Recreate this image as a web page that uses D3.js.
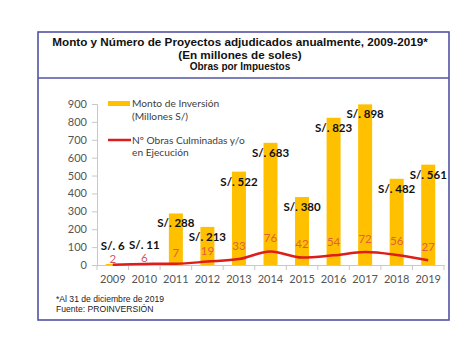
<!DOCTYPE html>
<html><head><meta charset="utf-8">
<script src="https://cdn.jsdelivr.net/npm/d3@7"></script>
<style>body{margin:0;background:#fff}svg{display:block}</style>
</head><body>
<script>
const years = ["2009","2010","2011","2012","2013","2014","2015","2016","2017","2018","2019"];
const montos = [6, 11, 288, 213, 522, 683, 380, 823, 898, 482, 561];
const obras = [2, 6, 7, 19, 33, 76, 42, 54, 72, 56, 27];
const yTicks = [0,100,200,300,400,500,600,700,800,900];
const titleLines = ["Monto y Número de Proyectos adjudicados anualmente, 2009-2019*", "(En millones de soles)", "Obras por Impuestos"];
const legendLabels = [["Monto de Inversión","(Millones S/)"],["Nº Obras Culminadas y/o","en Ejecución"]];
const notes = ["*Al 31 de diciembre de 2019", "Fuente: PROINVERSIÓN"];

const W = 474, H = 339;
const svg = d3.select("body").append("svg").attr("width", W).attr("height", H);

// frame
const frame = "#5353a3";
svg.append("rect").attr("x",38).attr("y",32).attr("width",411).attr("height",288)
  .attr("fill","none").attr("stroke",frame).attr("stroke-width",1.6);
svg.append("line").attr("x1",38).attr("x2",449).attr("y1",78).attr("y2",78)
  .attr("stroke",frame).attr("stroke-width",1.6);

// title
const tf = "Liberation Sans, Arial, sans-serif";
svg.append("text").attr("x",240).attr("y",46).attr("text-anchor","middle")
  .attr("font-family",tf).attr("font-weight","bold").attr("font-size",11.7).attr("fill","#111").text(titleLines[0]);
svg.append("text").attr("x",240).attr("y",59).attr("text-anchor","middle")
  .attr("font-family",tf).attr("font-weight","bold").attr("font-size",11.7).attr("fill","#111").text(titleLines[1]);
svg.append("text").attr("x",240).attr("y",70).attr("text-anchor","middle")
  .attr("font-family",tf).attr("font-weight","bold").attr("font-size",10).attr("fill","#111").text(titleLines[2]);

const cf = "Lato, Carlito, Open Sans, sans-serif";
const x = d3.scaleBand().domain(years).range([97, 444]);
const y = d3.scaleLinear().domain([0, 900]).range([265, 104]);
const cx = i => x(years[i]) + x.bandwidth()/2;

// y axis
const ya = svg.append("g").attr("transform","translate(97,0)")
  .call(d3.axisLeft(y).tickValues(yTicks).tickSize(5).tickPadding(5));
ya.select(".domain").attr("stroke","#c8c8c8");
ya.selectAll(".tick line").attr("stroke","#c8c8c8");
ya.selectAll("text").attr("font-family",cf).attr("font-size",11).attr("fill","#555");

// x axis
const xa = svg.append("g").attr("transform","translate(0,265)")
  .call(d3.axisBottom(x).tickSize(0).tickPadding(10).tickSizeOuter(0));
xa.select(".domain").attr("stroke","#c8c8c8");
xa.selectAll("text").attr("font-family",cf).attr("font-size",11).attr("fill","#555");
svg.append("g").selectAll("line").data(years.concat(["end"])).join("line")
  .attr("x1",(d,i)=> i<years.length ? x(d) : x.range()[1])
  .attr("x2",(d,i)=> i<years.length ? x(d) : x.range()[1])
  .attr("y1",265).attr("y2",270).attr("stroke","#c8c8c8");

// bars
const bw = 14;
svg.append("g").selectAll("rect").data(montos).join("rect")
  .attr("x",(d,i)=>cx(i) - bw/2)
  .attr("y",d=>y(d)).attr("width",bw).attr("height",d=>y(0)-y(d))
  .attr("fill","#ffc000");

// line
const line = d3.line().x((d,i)=>cx(i)).y(d=>y(d)).curve(d3.curveMonotoneX);
svg.append("path").datum(obras).attr("d",line).attr("fill","none")
  .attr("stroke","#dd1c1c").attr("stroke-width",2.5);

// count labels
svg.append("g").selectAll("text").data(obras).join("text")
  .attr("x",(d,i)=>cx(i))
  .attr("y",(d,i)=> montos[i] > 100 ? y(d) - (d < 25 ? 6.5 : 9.5) : y(d) - 1.5)
  .attr("text-anchor","middle").attr("font-family",cf).attr("font-size",11.5)
  .attr("fill",(d,i)=> montos[i] > 100 ? "#e0603a" : "#cc5a6a").text(d=>d);

// value labels
svg.append("g").selectAll("text").data(montos).join("text")
  .attr("x",(d,i)=>cx(i))
  .attr("y",d=> d > 100 ? y(d) + 14 : y(d) - 14)
  .attr("text-anchor","middle").attr("font-family",cf).attr("font-weight","bold").attr("font-size",11.5)
  .attr("fill","#111").text(d=>"S/. " + d);

// legend
svg.append("rect").attr("x",108).attr("y",101).attr("width",22).attr("height",5).attr("fill","#ffc000");
svg.append("line").attr("x1",108).attr("x2",131).attr("y1",140).attr("y2",140).attr("stroke","#dd1c1c").attr("stroke-width",2.5);
legendLabels.forEach((ls,k)=>{
  ls.forEach((t,j)=>{
    svg.append("text").attr("x",132).attr("y",(k? 143.5:107) + j*12.5)
      .attr("font-family",cf).attr("font-size",10.2).attr("fill","#404040").text(t);
  });
});

// notes
notes.forEach((t,i)=>{
  svg.append("text").attr("x",56).attr("y",302 + i*9.5).attr("font-family",tf)
    .attr("font-size",8.6).attr("fill","#222").text(t);
});
</script>
</body></html>
